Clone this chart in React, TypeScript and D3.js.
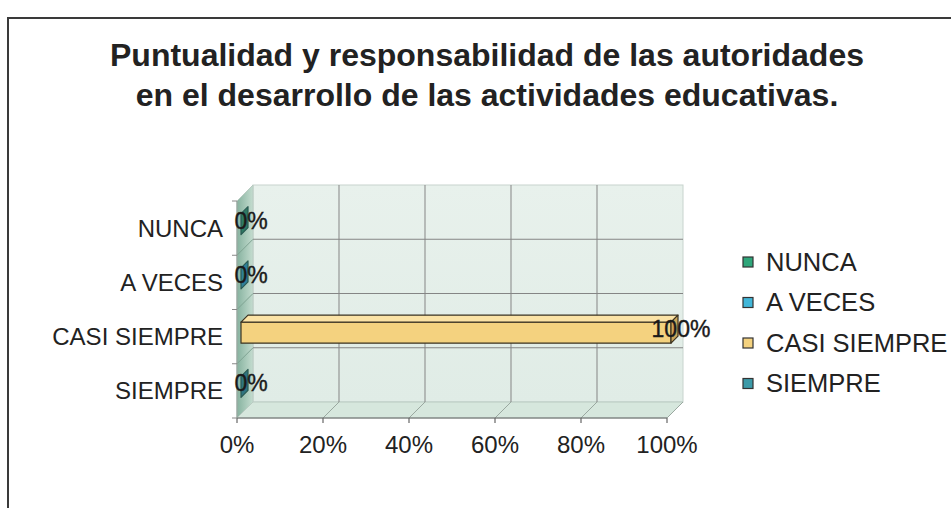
import React from "react";
import * as d3 from "d3";

const categories = ["NUNCA", "A VECES", "CASI SIEMPRE", "SIEMPRE"];
const values = [0, 0, 1, 0];
const valueTicks = [0, 0.2, 0.4, 0.6, 0.8, 1];
const titleLines = [
  "Puntualidad y responsabilidad de las autoridades",
  "en el desarrollo de las actividades educativas.",
];
const seriesColors = ["#2fa67a", "#41b6d8", "#f4d27f", "#3c9aa8"];
const seriesSide = ["#2f7a64", "#2f7f98", "#caa55a", "#2f7480"];
const seriesTop = ["#5cc49a", "#7dd0ea", "#fbe3a6", "#6bbcc6"];

const FONT = "'Liberation Sans', Arial, sans-serif";

export default function App() {
  const D = 16; // depth offset of the 3D box
  const x = d3.scaleLinear().domain([0, 1]).range([237, 667]);
  const y = d3.scaleBand<string>().domain(categories).range([201, 418]);
  const bw = y.bandwidth();
  const barH = 21;
  const z0 = 4;
  const z1 = 11;

  const x0 = x(0);
  const x1 = x(1);
  const yTop = y.range()[0];
  const yBot = y.range()[1];

  const pts = (p: number[][]) => p.map((q) => q.join(",")).join(" ");

  return (
    <svg
      width={951}
      height={508}
      style={{ position: "absolute", left: 0, top: 0, background: "#fff" }}
      fontFamily={FONT}
    >
      <defs>
        <linearGradient id="lw" x1="0" x2="1" y1="0" y2="0">
          <stop offset="0" stopColor="#86b29f" />
          <stop offset="1" stopColor="#c4dccf" />
        </linearGradient>
        <linearGradient id="bw" x1="0" x2="0" y1="0" y2="1">
          <stop offset="0" stopColor="#e8f1ec" />
          <stop offset="1" stopColor="#e0ece6" />
        </linearGradient>
      </defs>
      <rect x={8} y={18} width={960} height={520} fill="#fff" stroke="#3a3a3a" strokeWidth={2} />

      {titleLines.map((t, i) => (
        <text
          key={t}
          x={487}
          y={66 + i * 40}
          textAnchor="middle"
          fontSize={32}
          fontWeight="bold"
          fill="#222"
        >
          {t}
        </text>
      ))}

      {/* back wall */}
      <rect x={x0 + D} y={yTop - D} width={x1 - x0} height={yBot - yTop} fill="url(#bw)" stroke="#c8d4ce" strokeWidth={1} />
      {/* left wall */}
      <polygon
        points={pts([
          [x0, yBot],
          [x0, yTop],
          [x0 + D, yTop - D],
          [x0 + D, yBot - D],
        ])}
        fill="url(#lw)"
        stroke="#b9cbc2"
        strokeWidth={1}
      />
      {/* floor */}
      <polygon
        points={pts([
          [x0, yBot],
          [x0 + D, yBot - D],
          [x1 + D, yBot - D],
          [x1, yBot],
        ])}
        fill="#d6e7dd"
        stroke="#b9cbc2"
        strokeWidth={1}
      />

      {/* vertical gridlines */}
      {valueTicks.slice(1).map((v) => (
        <g key={"vg" + v} stroke="#858585" strokeWidth={1}>
          {v < 1 && <line x1={x(v) + D} x2={x(v) + D} y1={yTop - D} y2={yBot - D} />}
          <line x1={x(v) + D} x2={x(v)} y1={yBot - D} y2={yBot} stroke="#9aa8a0" />
        </g>
      ))}
      {/* horizontal gridlines */}
      {categories.slice(1).map((c) => {
        const yy = y(c)!;
        return (
          <g key={"hg" + c} stroke="#858585" strokeWidth={1}>
            <line x1={x0 + D} x2={x1 + D} y1={yy - D} y2={yy - D} />
            <line x1={x0} x2={x0 + D} y1={yy} y2={yy - D} stroke="#7fa392" />
          </g>
        );
      })}

      {/* axes */}
      <line x1={x0} x2={x1} y1={yBot} y2={yBot} stroke="#666" strokeWidth={1.2} />
      {valueTicks.map((v) => (
        <line key={"vt" + v} x1={x(v)} x2={x(v)} y1={yBot} y2={yBot + 5} stroke="#666" strokeWidth={1.2} />
      ))}
      <line x1={x0} x2={x0} y1={yTop} y2={yBot} stroke="#8a9a92" strokeWidth={1} />
      {[...categories.map((c) => y(c)!), yBot].map((yy, i) => (
        <line key={"ct" + i} x1={x0 - 5} x2={x0} y1={yy} y2={yy} stroke="#888" strokeWidth={1} />
      ))}

      {/* bars */}
      {categories.map((c, i) => {
        const cy = y(c)! + bw / 2;
        const t = cy - barH / 2 - z0;
        const b = cy + barH / 2 - z0;
        const xa = x0 + z0;
        const xb = x(values[i]) + z0;
        const dz = z1 - z0;
        return (
          <g key={"bar" + c} stroke="#3a3220" strokeWidth={1.2} strokeLinejoin="round">
            {xb > xa && <rect x={xa} y={t} width={xb - xa} height={b - t} fill={seriesColors[i]} />}
            {xb > xa && (
              <polygon
                points={pts([
                  [xa, t],
                  [xb, t],
                  [xb + dz, t - dz],
                  [xa + dz, t - dz],
                ])}
                fill={seriesTop[i]}
              />
            )}
            <polygon
              points={pts([
                [xb, t],
                [xb + dz, t - dz],
                [xb + dz, b - dz],
                [xb, b],
              ])}
              fill={seriesSide[i]}
              stroke={xb > xa ? "#3a3220" : "#2a5a52"}
            />
          </g>
        );
      })}

      {/* data labels */}
      {categories.map((c, i) => (
        <text
          key={"dl" + c}
          x={x(values[i]) + 14}
          y={y(c)! + bw / 2 - 7.5}
          dy="0.35em"
          textAnchor="middle"
          fontSize={23}
          fill="#1a1a1a"
          stroke="#1a1a1a"
          strokeWidth={0.4}
        >
          {d3.format(".0%")(values[i])}
        </text>
      ))}

      {/* category labels */}
      {categories.map((c) => (
        <text
          key={"cl" + c}
          x={223}
          y={y(c)! + bw / 2}
          dy="0.35em"
          textAnchor="end"
          fontSize={24}
          fill="#222"
        >
          {c}
        </text>
      ))}

      {/* value tick labels */}
      {valueTicks.map((v) => (
        <text key={"tl" + v} x={x(v)} y={453} textAnchor="middle" fontSize={24} fill="#222">
          {d3.format(".0%")(v)}
        </text>
      ))}

      {/* legend */}
      {categories.map((c, i) => {
        const cy = 262 + i * 40.5;
        return (
          <g key={"lg" + c}>
            <rect x={743} y={cy - 5} width={10} height={10} fill={seriesColors[i]} stroke="#333" strokeWidth={1.2} />
            <text x={766} y={cy} dy="0.35em" fontSize={25.5} fill="#222">
              {c}
            </text>
          </g>
        );
      })}
    </svg>
  );
}
